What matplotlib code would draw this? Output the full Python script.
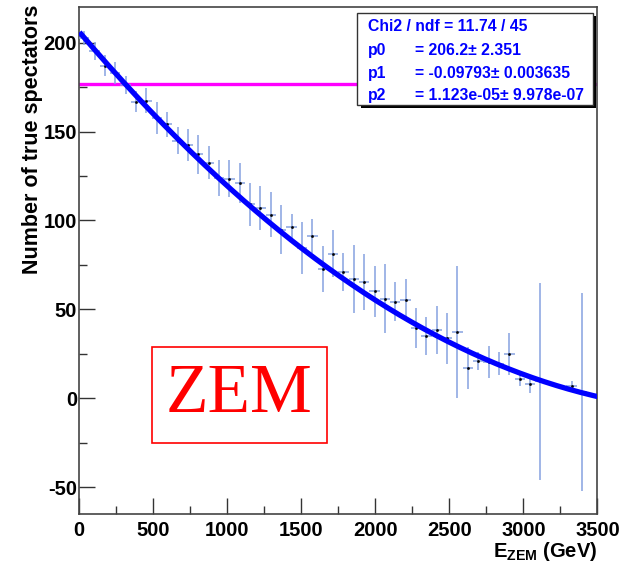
import numpy as np
import matplotlib
matplotlib.use('Agg')
import matplotlib.pyplot as plt
from matplotlib.patches import Rectangle
from matplotlib.ticker import MultipleLocator

plt.rcParams['font.family'] = ['Liberation Sans', 'DejaVu Sans']
plt.rcParams['font.weight'] = 'bold'
plt.rcParams['axes.unicode_minus'] = False
plt.rcParams['mathtext.fontset'] = 'custom'
plt.rcParams['mathtext.rm'] = 'Liberation Sans:bold'
plt.rcParams['mathtext.bf'] = 'Liberation Sans:bold'
plt.rcParams['mathtext.it'] = 'Liberation Sans:bold'

# bin centres (GeV), bin half width 35 GeV
e_zem = [35, 105, 175, 245, 315, 385, 455, 525, 595, 665, 735, 805, 875, 945,
         1015, 1085, 1155, 1225, 1295, 1365, 1435, 1505, 1575, 1645, 1715,
         1785, 1855, 1925, 1995, 2065, 2135, 2205, 2275, 2345, 2415, 2485,
         2555, 2625, 2695, 2765, 2835, 2905, 2975, 3045, 3115, 3325, 3395]
n_spec = [202.5, 195.5, 187, 183, 176, 166.8, 167.4, 157.4, 154, 144.8, 142.5,
          137.1, 132.6, 124, 123.4, 120.9, 109, 106.8, 103.3, 94.9, 96.4, 84.6,
          91.1, 72.7, 81.3, 71.2, 67.1, 65.4, 60.3, 56.1, 54.4, 55.2, 39.6, 35,
          38.6, 33.7, 37.4, 17.1, 20.9, 20.5, 19.6, 25, 10.7, 7.9, 9.5, 6.8, 3.5]
n_err = [4, 5, 6, 6, 5, 6, 7, 9, 7, 7.5, 9, 10.8, 9, 10, 10.4, 11.2, 12, 12.4,
         12.7, 13.9, 7.5, 14.6, 9.6, 13, 13.2, 10.6, 19, 15.5, 14.3, 19.3, 11,
         11.8, 11.3, 10.5, 13.4, 14.4, 37.2, 11.9, 5, 8.8, 6.6, 11.6, 4, 4.7,
         55.5, 3, 55.7]
half_bin = 35

# pol2 fit parameters shown in the stats box
p0, p1, p2 = 206.2, -0.09793, 1.123e-05
cut_level = 177

stat_lines = ['Chi2 / ndf = 11.74 / 45',
              ('p0', '= 206.2\u00b1 2.351'),
              ('p1', '= -0.09793\u00b1 0.003635'),
              ('p2', '= 1.123e-05\u00b1 9.978e-07')]

fig = plt.figure(figsize=(6.28, 5.71), dpi=100)
ax = fig.add_axes([0.1258, 0.0998, 0.8256, 0.8879])

ax.axhline(cut_level, color='#ff00ff', lw=2.4, zorder=2)

ax.errorbar(e_zem, n_spec, yerr=n_err, xerr=half_bin, fmt='s', ms=0.9,
            mfc='black', mec='black', ecolor='#86a2e0', elinewidth=1.1,
            capsize=0, zorder=3)

xf = np.linspace(15, 3490, 300)
ax.plot(xf, p0 + p1 * xf + p2 * xf ** 2, color='#0000ff', lw=3.8, zorder=4)

ax.set_xlim(0, 3500)
ax.set_ylim(-65, 220)
ax.xaxis.set_major_locator(MultipleLocator(500))
ax.xaxis.set_minor_locator(MultipleLocator(250))
ax.yaxis.set_major_locator(MultipleLocator(50))
ax.yaxis.set_minor_locator(MultipleLocator(25))
ax.tick_params(which='major', direction='in', length=11.5, width=1,
               color='#333333', labelsize=14.5)
ax.tick_params(which='minor', direction='in', length=5.5, width=1,
               color='#333333')
ax.tick_params(axis='x', pad=5)
ax.tick_params(axis='y', pad=1.5)
for lab in ax.get_xticklabels() + ax.get_yticklabels():
    lab.set_fontweight('bold')
for s in ax.spines.values():
    s.set_color('#444444')
    s.set_linewidth(1.2)

fig.text(0.051, 0.992, 'Number of true spectators', rotation=90, ha='center',
         va='top', fontsize=15.5, fontweight='bold')
fig.text(0.951, 0.024, r'$\mathbf{E_{ZEM}}$ (GeV)', ha='right', va='baseline',
         fontsize=14.5, fontweight='bold')

# stats box with shadow
bx0, bx1, by0, by1 = 0.536, 0.991, 0.807, 0.989
ax.add_patch(Rectangle((bx0 + 0.007, by0 - 0.007), bx1 - bx0, by1 - by0,
                       transform=ax.transAxes, facecolor='black',
                       edgecolor='none', zorder=5, clip_on=False))
ax.add_patch(Rectangle((bx0, by0), bx1 - bx0, by1 - by0,
                       transform=ax.transAxes, facecolor='white',
                       edgecolor='#333333', lw=1, zorder=6, clip_on=False))
rows_y = [0.9606, 0.9152, 0.8698, 0.8264]
ax.text(0.557, rows_y[0], stat_lines[0], transform=ax.transAxes,
        color='#0000ff', fontsize=11.3, fontweight='bold', va='center', zorder=7)
for yy, (name, val) in zip(rows_y[1:], stat_lines[1:]):
    ax.text(0.557, yy, name, transform=ax.transAxes, color='#0000ff',
            fontsize=11.3, fontweight='bold', va='center', zorder=7)
    ax.text(0.648, yy, val, transform=ax.transAxes, color='#0000ff',
            fontsize=11.3, fontweight='bold', va='center', zorder=7)

# ZEM label box
ax.add_patch(Rectangle((0.1408, 0.140), 0.3375, 0.1894, transform=ax.transAxes,
                       facecolor='white', edgecolor='#ff0000', lw=1.2, zorder=6))
ax.text(0.3095, 0.2347, 'ZEM', transform=ax.transAxes, color='#ff0000',
        fontsize=50, fontweight='normal', family='Liberation Serif',
        ha='center', va='center', zorder=7)

fig.savefig('out.png', dpi=100)
